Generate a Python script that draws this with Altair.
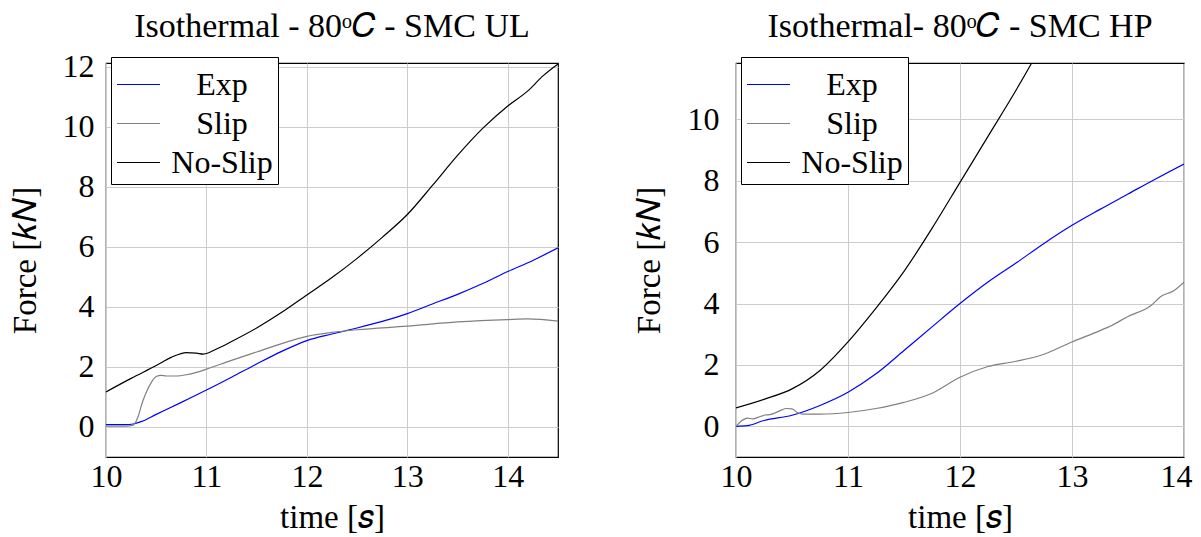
import altair as alt
import pandas as pd

FONT = "Liberation Serif"
SERIES = ["Exp", "Slip", "No-Slip"]
COLORS = ["#0000ff", "#808080", "#000000"]

# ---- Left panel: Isothermal - 80oC - SMC UL ----
ul_exp_t = [10.0, 10.1, 10.2, 10.27, 10.35, 10.5, 10.75, 11.0, 11.25, 11.5, 11.75, 12.0, 12.25,
            12.5, 12.75, 13.0, 13.25, 13.5, 13.75, 14.0, 14.25, 14.5]
ul_exp_v = [0.08, 0.08, 0.08, 0.1, 0.18, 0.42, 0.82, 1.23, 1.66, 2.1, 2.52, 2.88, 3.1,
            3.3, 3.52, 3.78, 4.1, 4.42, 4.78, 5.18, 5.55, 5.97]

ul_slip_t = [10.0, 10.1, 10.2, 10.27, 10.32, 10.36, 10.4, 10.45, 10.5, 10.55, 10.6, 10.7, 10.8,
             10.9, 11.0, 11.25, 11.5, 11.75, 12.0, 12.25, 12.5, 13.0, 13.5, 14.0, 14.2, 14.5]
ul_slip_v = [0.03, 0.03, 0.03, 0.06, 0.35, 0.8, 1.15, 1.48, 1.68, 1.72, 1.7, 1.7, 1.74,
             1.82, 1.93, 2.22, 2.5, 2.78, 3.02, 3.15, 3.24, 3.36, 3.5, 3.58, 3.6, 3.53]

ul_noslip_t = [10.0, 10.25, 10.5, 10.65, 10.8, 10.9, 10.97, 11.1, 11.25, 11.5, 11.75, 12.0,
               12.25, 12.5, 12.75, 13.0, 13.25, 13.5, 13.75, 14.0, 14.2, 14.35, 14.5]
ul_noslip_v = [1.17, 1.62, 2.05, 2.32, 2.48, 2.46, 2.43, 2.6, 2.85, 3.3, 3.82, 4.4,
               4.98, 5.62, 6.32, 7.08, 8.05, 9.05, 9.95, 10.7, 11.2, 11.7, 12.1]

# ---- Right panel: Isothermal- 80oC - SMC HP ----
hp_exp_t = [10.0, 10.1, 10.25, 10.5, 10.75, 11.0, 11.25, 11.5, 11.75, 12.0, 12.25, 12.5,
            12.75, 13.0, 13.25, 13.5, 13.75, 14.0]
hp_exp_v = [0.0, 0.02, 0.19, 0.36, 0.68, 1.11, 1.71, 2.47, 3.24, 4.0, 4.7, 5.32,
            5.96, 6.55, 7.07, 7.57, 8.07, 8.55]

hp_slip_t = [10.0, 10.05, 10.1, 10.15, 10.2, 10.25, 10.3, 10.35, 10.4, 10.45, 10.5, 10.55, 10.6,
             10.75, 11.0, 11.25, 11.5, 11.75, 12.0, 12.25, 12.5, 12.75, 13.0, 13.25, 13.35,
             13.5, 13.7, 13.8, 13.9, 14.0]
hp_slip_v = [0.0, 0.18, 0.27, 0.24, 0.3, 0.36, 0.38, 0.44, 0.52, 0.58, 0.57, 0.44, 0.4,
             0.4, 0.45, 0.58, 0.78, 1.08, 1.6, 1.95, 2.12, 2.35, 2.75, 3.12, 3.28,
             3.58, 3.92, 4.25, 4.4, 4.7]

hp_noslip_t = [10.0, 10.25, 10.5, 10.75, 11.0, 11.25, 11.5, 11.75, 12.0, 12.25, 12.5,
               12.64, 12.8]
hp_noslip_v = [0.6, 0.88, 1.22, 1.82, 2.75, 3.85, 5.05, 6.45, 7.95, 9.45, 10.95,
               11.84, 12.9]

x_ticks_left = [10, 11, 12, 13, 14]
x_ticks_right = [10, 11, 12, 13, 14]
y_ticks_left = [0, 2, 4, 6, 8, 10, 12]
y_ticks_right = [0, 2, 4, 6, 8, 10]


def frame(parts):
    rows = []
    for name, ts, vs in parts:
        for t, v in zip(ts, vs):
            rows.append({"time": t, "force": v, "series": name})
    return pd.DataFrame(rows)


def panel(df, title, xdom, ydom, xticks, yticks, width, lab_pad, title_pad, toff, last_shift):
    legend = alt.Legend(
        title=None, orient="none", legendX=5, legendY=-6,
        fillColor="white", strokeColor="black", cornerRadius=0, padding=5,
        symbolType="stroke", symbolSize=1850, symbolStrokeWidth=1.2,
        labelFont=FONT, labelFontSize=32, labelColor="black",
        labelAlign="center", labelOffset=61, rowPadding=0,
    )
    x_label_offset = {"condition": {"test": f"datum.value == {xticks[-1]}", "value": last_shift},
                      "value": 0}
    return alt.Chart(df).mark_line(strokeWidth=1.2, clip=True, interpolate="monotone").encode(
        x=alt.X("time:Q", scale=alt.Scale(domain=xdom, nice=False, zero=False),
                axis=alt.Axis(values=xticks, title="time [𝑠]", format="d",
                              labelPadding=4, titlePadding=9, labelFlush=False,
                              labelOffset=x_label_offset)),
        y=alt.Y("force:Q", scale=alt.Scale(domain=ydom, nice=False, zero=False),
                axis=alt.Axis(values=yticks, title="Force [𝑘𝑁]", format="d",
                              labelPadding=lab_pad, titlePadding=title_pad, labelFlush=False)),
        color=alt.Color("series:N", scale=alt.Scale(domain=SERIES, range=COLORS),
                        legend=legend),
    ).properties(
        width=width, height=394,
        title=alt.TitleParams(title, font=FONT, fontSize=34, fontWeight="normal",
                              color="black", offset=toff),
    )


left_df = frame([("Exp", ul_exp_t, ul_exp_v), ("Slip", ul_slip_t, ul_slip_v),
                 ("No-Slip", ul_noslip_t, ul_noslip_v)])
right_df = frame([("Exp", hp_exp_t, hp_exp_v), ("Slip", hp_slip_t, hp_slip_v),
                  ("No-Slip", hp_noslip_t, hp_noslip_v)])

left = panel(left_df, "Isothermal - 80ᵒ𝐶 - SMC UL", [10, 14.5], [-1, 12.13],
             x_ticks_left, y_ticks_left, 452, 12, 20, 7, 0)
right = panel(right_df, "Isothermal- 80ᵒ𝐶 - SMC HP", [10, 14], [-1, 11.84],
              x_ticks_right, y_ticks_right, 448, 17, 21, 13, -8)

chart = alt.hconcat(left, right, spacing=73).resolve_legend(color="independent").configure(
    padding={"left": 0, "top": 0, "right": 0, "bottom": 0},
).configure_view(
    stroke="black", strokeWidth=1.2,
).configure_axis(
    labelFont=FONT, labelFontSize=32, labelColor="black",
    titleFont=FONT, titleFontSize=33, titleFontWeight="normal", titleColor="black",
    grid=True, gridColor="#cccccc", gridWidth=1,
    domain=False, ticks=False,
)

chart.save("out.html", embed_options={"renderer": "svg", "actions": False})
